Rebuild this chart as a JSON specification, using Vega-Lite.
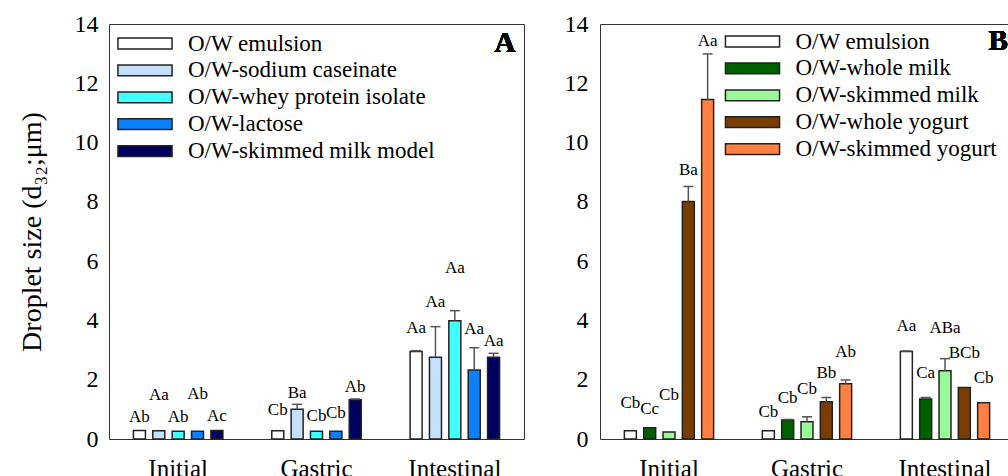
{
  "$schema": "https://vega.github.io/schema/vega-lite/v6.json",
  "background": "white",
  "padding": {"left": 17, "top": 11, "right": 0, "bottom": 0},
  "autosize": {"type": "pad"},
  "spacing": 76,
  "bounds": "flush",
  "config": {
    "font": "Liberation Serif, Times New Roman, serif",
    "view": {"stroke": "#333", "strokeWidth": 1},
    "axis": {"labelFont": "Liberation Serif, Times New Roman, serif", "titleFont": "Liberation Serif, Times New Roman, serif", "labelColor": "black", "titleColor": "black", "grid": false, "ticks": false, "domain": false, "titleFontWeight": "normal"},
    "legend": {"labelFont": "Liberation Serif, Times New Roman, serif", "labelColor": "black", "labelLimit": 400},
    "text": {"font": "Liberation Serif, Times New Roman, serif"}
  },
  "datasets": {
    "A": [
      {"stage": "Initial", "series": "O/W emulsion", "v": 0.29, "hi": 0.29, "lab": "Ab", "ly": 0.73},
      {"stage": "Initial", "series": "O/W-sodium caseinate", "v": 0.28, "hi": 0.28, "lab": "Aa", "ly": 1.48},
      {"stage": "Initial", "series": "O/W-whey protein isolate", "v": 0.26, "hi": 0.26, "lab": "Ab", "ly": 0.73},
      {"stage": "Initial", "series": "O/W-lactose", "v": 0.26, "hi": 0.26, "lab": "Ab", "ly": 1.52},
      {"stage": "Initial", "series": "O/W-skimmed milk model", "v": 0.29, "hi": 0.29, "lab": "Ac", "ly": 0.79},
      {"stage": "Gastric", "series": "O/W emulsion", "v": 0.28, "hi": 0.28, "lab": "Cb", "ly": 0.98},
      {"stage": "Gastric", "series": "O/W-sodium caseinate", "v": 1.0, "hi": 1.17, "lab": "Ba", "ly": 1.56},
      {"stage": "Gastric", "series": "O/W-whey protein isolate", "v": 0.26, "hi": 0.26, "lab": "Cb", "ly": 0.78},
      {"stage": "Gastric", "series": "O/W-lactose", "v": 0.26, "hi": 0.26, "lab": "Cb", "ly": 0.87},
      {"stage": "Gastric", "series": "O/W-skimmed milk model", "v": 1.32, "hi": 1.35, "lab": "Ab", "ly": 1.76},
      {"stage": "Intestinal", "series": "O/W emulsion", "v": 2.95, "hi": 2.98, "lab": "Aa", "ly": 3.73},
      {"stage": "Intestinal", "series": "O/W-sodium caseinate", "v": 2.76, "hi": 3.79, "lab": "Aa", "ly": 4.63},
      {"stage": "Intestinal", "series": "O/W-whey protein isolate", "v": 3.99, "hi": 4.33, "lab": "Aa", "ly": 5.78},
      {"stage": "Intestinal", "series": "O/W-lactose", "v": 2.33, "hi": 3.08, "lab": "Aa", "ly": 3.70},
      {"stage": "Intestinal", "series": "O/W-skimmed milk model", "v": 2.76, "hi": 2.89, "lab": "Aa", "ly": 3.32}
    ],
    "B": [
      {"stage": "Initial", "series": "O/W emulsion", "v": 0.28, "hi": 0.28, "lab": "Cb", "ly": 1.20},
      {"stage": "Initial", "series": "O/W-whole milk", "v": 0.38, "hi": 0.38, "lab": "Cc", "ly": 1.01},
      {"stage": "Initial", "series": "O/W-skimmed milk", "v": 0.24, "hi": 0.24, "lab": "Cb", "ly": 1.50},
      {"stage": "Initial", "series": "O/W-whole yogurt", "v": 8.01, "hi": 8.52, "lab": "Ba", "ly": 9.08},
      {"stage": "Initial", "series": "O/W-skimmed yogurt", "v": 11.45, "hi": 12.99, "lab": "Aa", "ly": 13.44},
      {"stage": "Gastric", "series": "O/W emulsion", "v": 0.28, "hi": 0.28, "lab": "Cb", "ly": 0.92},
      {"stage": "Gastric", "series": "O/W-whole milk", "v": 0.64, "hi": 0.66, "lab": "Cb", "ly": 1.40},
      {"stage": "Gastric", "series": "O/W-skimmed milk", "v": 0.58, "hi": 0.75, "lab": "Cb", "ly": 1.68},
      {"stage": "Gastric", "series": "O/W-whole yogurt", "v": 1.26, "hi": 1.40, "lab": "Bb", "ly": 2.24},
      {"stage": "Gastric", "series": "O/W-skimmed yogurt", "v": 1.86, "hi": 1.99, "lab": "Ab", "ly": 2.92},
      {"stage": "Intestinal", "series": "O/W emulsion", "v": 2.95, "hi": 2.97, "lab": "Aa", "ly": 3.82},
      {"stage": "Intestinal", "series": "O/W-whole milk", "v": 1.35, "hi": 1.40, "lab": "Ca", "ly": 2.24},
      {"stage": "Intestinal", "series": "O/W-skimmed milk", "v": 2.30, "hi": 2.71, "lab": "ABa", "ly": 3.73},
      {"stage": "Intestinal", "series": "O/W-whole yogurt", "v": 1.74, "hi": 1.74, "lab": "BCb", "ly": 2.89},
      {"stage": "Intestinal", "series": "O/W-skimmed yogurt", "v": 1.22, "hi": 1.22, "lab": "Cb", "ly": 2.07}
    ]
  },
  "resolve": {
    "scale": {"x": "independent", "y": "independent", "xOffset": "independent", "color": "independent"},
    "legend": {"color": "independent"},
    "axis": {"x": "independent", "y": "independent"}
  },
  "hconcat": [
    {
      "width": 415,
      "height": 415,
      "data": {"name": "A"},
      "encoding": {
        "x": {"field": "stage", "type": "nominal", "sort": ["Initial", "Gastric", "Intestinal"], "scale": {"paddingInner": 0.3, "paddingOuter": 0.15}, "axis": {"title": null, "labelAngle": 0, "labelFontSize": 25, "labelPadding": 17, "labelFont": "Liberation Serif, Times New Roman, serif"}},
        "xOffset": {"field": "series", "type": "nominal", "sort": ["O/W emulsion", "O/W-sodium caseinate", "O/W-whey protein isolate", "O/W-lactose", "O/W-skimmed milk model"], "scale": {"paddingInner": 0.38, "paddingOuter": 0.19}}
      },
      "layer": [
        {
          "mark": {"type": "bar", "stroke": "#222", "strokeWidth": 1.5},
          "encoding": {
            "y": {"field": "v", "type": "quantitative", "title": "Droplet size (d₃₂;μm)", "scale": {"domain": [0, 14], "nice": false}, "axis": {"values": [0, 2, 4, 6, 8, 10, 12, 14], "labelFontSize": 24, "labelPadding": 11, "titleFontSize": 28, "titlePadding": 28, "labelFont": "Liberation Serif, Times New Roman, serif", "titleFont": "Liberation Serif, Times New Roman, serif"}},
            "color": {
              "field": "series", "type": "nominal",
              "scale": {"domain": ["O/W emulsion", "O/W-sodium caseinate", "O/W-whey protein isolate", "O/W-lactose", "O/W-skimmed milk model"], "range": ["#ffffff", "#c4e0fc", "#40ffff", "#0a80ff", "#000060"]},
              "legend": {"orient": "none", "legendX": 24.5, "legendY": 8, "title": null, "symbolType": "M-5,-1H5V1H-5Z", "symbolSize": 117, "labelFontSize": 23, "labelOffset": 31.5, "rowPadding": 2.9, "padding": 0, "labelLimit": 400, "symbolOpacity": 1, "symbolStrokeColor": "#222", "symbolStrokeWidth": 1.5,
                "encode": {"symbols": {"update": {"stroke": {"value": "#222"}, "strokeWidth": {"value": 1.5}, "opacity": {"value": 1}}}}}
            }
          }
        },
        {
          "transform": [{"filter": "datum.hi > datum.v"}],
          "mark": {"type": "rule", "color": "#555", "strokeWidth": 1.5},
          "encoding": {
            "y": {"field": "v", "type": "quantitative", "title": "Droplet size (d₃₂;μm)"},
            "y2": {"field": "hi"}
          }
        },
        {
          "transform": [{"filter": "datum.hi > datum.v"}],
          "mark": {"type": "tick", "color": "#555", "size": 10, "thickness": 1.5, "orient": "horizontal", "opacity": 1},
          "encoding": {
            "y": {"field": "hi", "type": "quantitative", "title": "Droplet size (d₃₂;μm)"}
          }
        },
        {
          "mark": {"type": "text", "fontSize": 17, "baseline": "middle", "color": "black"},
          "encoding": {
            "y": {"field": "ly", "type": "quantitative", "title": "Droplet size (d₃₂;μm)"},
            "text": {"field": "lab"}
          }
        },
        {
          "mark": {"type": "text", "fontSize": 29, "fontWeight": "bold", "baseline": "middle", "align": "center", "color": "black", "dx": 11.5},
          "encoding": {
            "x": {"datum": "Intestinal"},
            "xOffset": {"datum": "O/W-skimmed milk model"},
            "y": {"datum": 13.36, "type": "quantitative", "title": "Droplet size (d₃₂;μm)"},
            "text": {"value": "A"}
          }
        }
      ]
    },
    {
      "width": 414,
      "height": 415,
      "data": {"name": "B"},
      "encoding": {
        "x": {"field": "stage", "type": "nominal", "sort": ["Initial", "Gastric", "Intestinal"], "scale": {"paddingInner": 0.3, "paddingOuter": 0.15}, "axis": {"title": null, "labelAngle": 0, "labelFontSize": 25, "labelPadding": 17, "labelFont": "Liberation Serif, Times New Roman, serif"}},
        "xOffset": {"field": "series", "type": "nominal", "sort": ["O/W emulsion", "O/W-whole milk", "O/W-skimmed milk", "O/W-whole yogurt", "O/W-skimmed yogurt"], "scale": {"paddingInner": 0.38, "paddingOuter": 0.19}}
      },
      "layer": [
        {
          "mark": {"type": "bar", "stroke": "#222", "strokeWidth": 1.5},
          "encoding": {
            "y": {"field": "v", "type": "quantitative", "title": null, "scale": {"domain": [0, 14], "nice": false}, "axis": {"values": [0, 2, 4, 6, 8, 10, 12, 14], "labelFontSize": 24, "labelPadding": 12, "labelFont": "Liberation Serif, Times New Roman, serif"}},
            "color": {
              "field": "series", "type": "nominal",
              "scale": {"domain": ["O/W emulsion", "O/W-whole milk", "O/W-skimmed milk", "O/W-whole yogurt", "O/W-skimmed yogurt"], "range": ["#ffffff", "#006000", "#98fb98", "#7a3c00", "#ff8040"]},
              "legend": {"orient": "none", "legendX": 141, "legendY": 6, "title": null, "symbolType": "M-5,-1H5V1H-5Z", "symbolSize": 117, "labelFontSize": 23, "labelOffset": 31.5, "rowPadding": 2.9, "padding": 0, "labelLimit": 400, "symbolOpacity": 1, "symbolStrokeColor": "#222", "symbolStrokeWidth": 1.5,
                "encode": {"symbols": {"update": {"stroke": {"value": "#222"}, "strokeWidth": {"value": 1.5}, "opacity": {"value": 1}}}}}
            }
          }
        },
        {
          "transform": [{"filter": "datum.hi > datum.v"}],
          "mark": {"type": "rule", "color": "#555", "strokeWidth": 1.5},
          "encoding": {
            "y": {"field": "v", "type": "quantitative", "title": null},
            "y2": {"field": "hi"}
          }
        },
        {
          "transform": [{"filter": "datum.hi > datum.v"}],
          "mark": {"type": "tick", "color": "#555", "size": 10, "thickness": 1.5, "orient": "horizontal", "opacity": 1},
          "encoding": {
            "y": {"field": "hi", "type": "quantitative", "title": null}
          }
        },
        {
          "mark": {"type": "text", "fontSize": 17, "baseline": "middle", "color": "black"},
          "encoding": {
            "y": {"field": "ly", "type": "quantitative", "title": null},
            "text": {"field": "lab"}
          }
        },
        {
          "mark": {"type": "text", "fontSize": 29, "fontWeight": "bold", "baseline": "middle", "align": "center", "color": "black", "dx": 14.5},
          "encoding": {
            "x": {"datum": "Intestinal"},
            "xOffset": {"datum": "O/W-skimmed yogurt"},
            "y": {"datum": 13.43, "type": "quantitative", "title": null},
            "text": {"value": "B"}
          }
        }
      ]
    }
  ]
}
